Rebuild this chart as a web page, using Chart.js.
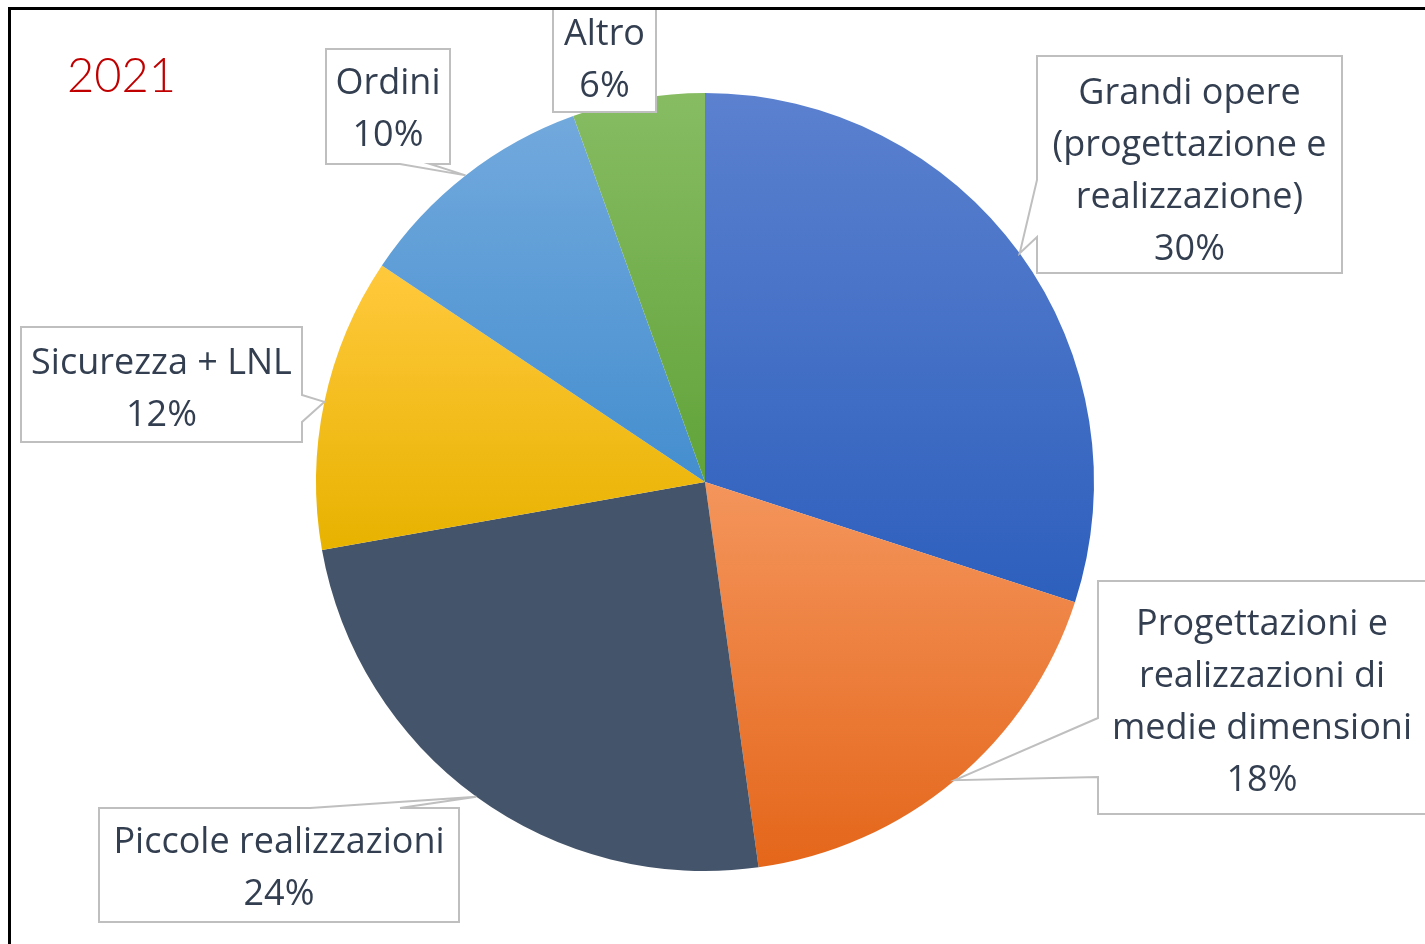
<!DOCTYPE html>
<html><head><meta charset="utf-8">
<script src="https://cdn.jsdelivr.net/npm/chart.js@4.4.0/dist/chart.umd.min.js"></script>
<style>html,body{margin:0;padding:0;background:#fff;overflow:hidden}#wrap{position:relative;width:1425px;height:944px}</style>
</head><body><div id="wrap"><canvas id="c" width="1425" height="944"></canvas></div>
<script>
// ---- data ----
const categories = [
  ['Grandi opere', '(progettazione e', 'realizzazione)'],
  ['Progettazioni e', 'realizzazioni di', 'medie dimensioni'],
  ['Piccole realizzazioni'],
  ['Sicurezza + LNL'],
  ['Ordini'],
  ['Altro']
];
const shares = [30.0, 17.8, 24.4, 12.2, 10.1, 5.5];
const chartTitle = '2021';

// ---- styles / layout ----
const gradientTop = ['#5b81cf', '#f4955c', '#44546a', '#ffc93d', '#72a9dd', '#87bc63'];
const gradientBottom = ['#2d5fbd', '#e4661a', '#44546a', '#e8b200', '#448ecf', '#61a339'];
const calloutLayout = [
  { box: [1037, 56, 305, 217], side: 'left', wedge: [180, 237], dy: 7 },
  { box: [1098, 581, 328, 233], side: 'left', wedge: [718, 777], dy: 5 },
  { box: [99, 808, 360, 114], side: 'top', wedge: [310, 400], dy: 4 },
  { box: [21, 327, 281, 115], side: 'right', wedge: [395, 422], dy: 5 },
  { box: [326, 49, 124, 115], side: 'bottom', wedge: [400, 430], dy: 3 },
  { box: [553, 8, 103, 104], side: null, dy: 1 }
];
const labelFont = '36px "Open Sans"';
const labelColor = '#333f50';
const lineH = 52;

const total = shares.reduce((a, b) => a + b, 0);

const gradientPlugin = {
  id: 'sliceGradient',
  beforeDatasetsDraw(chart) {
    const ctx = chart.ctx;
    const meta = chart.getDatasetMeta(0);
    meta.data.forEach((el, i) => {
      const { x, y, startAngle, endAngle, outerRadius } = el.getProps(['x', 'y', 'startAngle', 'endAngle', 'outerRadius'], true);
      const ys = [y, y + outerRadius * Math.sin(startAngle), y + outerRadius * Math.sin(endAngle)];
      [-Math.PI / 2, Math.PI / 2, 3 * Math.PI / 2].forEach(t => {
        if (startAngle <= t && t <= endAngle) ys.push(y + outerRadius * Math.sin(t));
      });
      const g = ctx.createLinearGradient(0, Math.min(...ys), 0, Math.max(...ys));
      g.addColorStop(0, gradientTop[i]);
      g.addColorStop(1, gradientBottom[i]);
      el.options.backgroundColor = g;
    });
  }
};

const calloutPlugin = {
  id: 'callouts',
  afterDatasetsDraw(chart) {
    const ctx = chart.ctx;
    const meta = chart.getDatasetMeta(0);
    ctx.save();
    meta.data.forEach((el, i) => {
      const L = calloutLayout[i];
      const { x, y, startAngle, endAngle, outerRadius } = el.getProps(['x', 'y', 'startAngle', 'endAngle', 'outerRadius'], true);
      const mid = (startAngle + endAngle) / 2;
      const tx = x + outerRadius * Math.cos(mid), ty = y + outerRadius * Math.sin(mid);
      const [x0, y0, w, h] = L.box;
      const x1 = x0 + w, y1 = y0 + h;
      ctx.beginPath();
      if (L.side === 'left') {
        ctx.moveTo(x0, y0); ctx.lineTo(x1, y0); ctx.lineTo(x1, y1); ctx.lineTo(x0, y1);
        ctx.lineTo(x0, L.wedge[1]); ctx.lineTo(tx, ty); ctx.lineTo(x0, L.wedge[0]);
      } else if (L.side === 'right') {
        ctx.moveTo(x0, y0); ctx.lineTo(x1, y0); ctx.lineTo(x1, L.wedge[0]); ctx.lineTo(tx, ty);
        ctx.lineTo(x1, L.wedge[1]); ctx.lineTo(x1, y1); ctx.lineTo(x0, y1);
      } else if (L.side === 'top') {
        ctx.moveTo(x0, y0); ctx.lineTo(L.wedge[0], y0); ctx.lineTo(tx, ty); ctx.lineTo(L.wedge[1], y0);
        ctx.lineTo(x1, y0); ctx.lineTo(x1, y1); ctx.lineTo(x0, y1);
      } else if (L.side === 'bottom') {
        ctx.moveTo(x0, y0); ctx.lineTo(x1, y0); ctx.lineTo(x1, y1); ctx.lineTo(L.wedge[1], y1);
        ctx.lineTo(tx, ty); ctx.lineTo(L.wedge[0], y1); ctx.lineTo(x0, y1);
      } else {
        ctx.rect(x0, y0, w, h);
      }
      ctx.closePath();
      ctx.fillStyle = '#ffffff';
      ctx.fill();
      ctx.strokeStyle = '#bfbfbf';
      ctx.lineWidth = 2;
      ctx.stroke();

      const lines = categories[i].concat([Math.round(shares[i] / total * 100) + '%']);
      ctx.fillStyle = labelColor;
      ctx.font = labelFont;
      ctx.textAlign = 'center';
      ctx.textBaseline = 'middle';
      const cx = (x0 + x1) / 2, cy = (y0 + y1) / 2 + L.dy;
      const startY = cy - (lines.length - 1) * lineH / 2;
      lines.forEach((t, k) => ctx.fillText(t, cx, startY + k * lineH));
    });
    ctx.restore();
  },
  afterDraw(chart) {
    const ctx = chart.ctx;
    ctx.save();
    ctx.fillStyle = '#c00000';
    ctx.font = '300 47px Lato';
    ctx.textAlign = 'left';
    ctx.textBaseline = 'alphabetic';
    ctx.fillText(chartTitle, 67, 92);
    ctx.fillStyle = '#000000';
    ctx.fillRect(8, 7, 1425 - 8, 3);
    ctx.fillRect(8, 7, 3, 944 - 7);
    ctx.restore();
  }
};

new Chart(document.getElementById('c'), {
  type: 'pie',
  data: {
    labels: categories,
    datasets: [{
      data: shares,
      backgroundColor: gradientTop,
      borderWidth: 0
    }]
  },
  options: {
    responsive: false,
    animation: false,
    layout: { padding: { left: 316, right: 331, top: 93, bottom: 73 } },
    plugins: { legend: { display: false }, tooltip: { enabled: false } }
  },
  plugins: [gradientPlugin, calloutPlugin]
});
</script>
</body></html>
